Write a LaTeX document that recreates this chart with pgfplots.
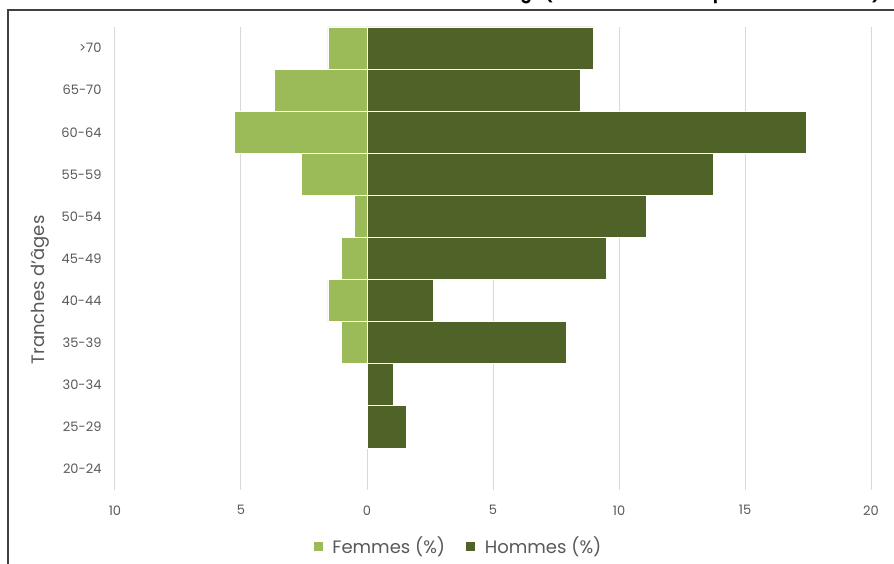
\documentclass[border=0pt]{standalone}
\usepackage{fontspec}
\setmainfont{Poppins}
\usepackage{pgfplots}
\pgfplotsset{compat=1.18}
\definecolor{femmes}{HTML}{9BBB59}
\definecolor{hommes}{HTML}{4F6228}
\definecolor{grille}{HTML}{D9D9D9}
\definecolor{texte}{HTML}{595959}
\definecolor{cadre}{HTML}{404040}
\begin{document}
\begin{tikzpicture}
\useasboundingbox (-115pt,-74pt) rectangle (779pt,490pt);
\begin{axis}[
  scale only axis, width=756pt, height=463pt,
  xmin=-10, xmax=20, ymin=-0.5, ymax=10.5,
  xtick={-10,-5,...,20},
  xticklabel={\pgfmathparse{abs(\tick)}\pgfmathprintnumber[assume math mode=true]{\pgfmathresult}},
  ytick={0,...,10},
  yticklabels={20-24,25-29,30-34,35-39,40-44,45-49,50-54,55-59,60-64,65-70,>70},
  major tick length=0pt,
  axis line style={draw=none},
  xmajorgrids, major grid style={grille, line width=1pt},
  tick label style={font=\fontsize{13}{15}\selectfont, text=texte},
  xticklabel style={yshift=-12pt},
  yticklabel style={xshift=-10pt},
  ylabel={Tranches d'âges},
  ylabel style={at={(axis description cs:-0.0992,0.432)}, rotate=0, anchor=center, font=\fontsize{18}{21}\selectfont, text=texte},
  legend style={draw=none, at={(axis description cs:0.4537,-0.121)}, anchor=center,
    legend columns=2, font=\fontsize{18}{21}\selectfont, text=texte,
    /tikz/every even column/.append style={column sep=18pt}},
  legend image code/.code={\fill[#1] (0pt,-5pt) rectangle (10pt,5pt); \path (17pt,0pt);},
]
\addplot[xbar, bar width=1, bar shift=0pt, fill=femmes, draw=white, line width=0.8pt] coordinates {
  (-1.02,3) (-1.55,4) (-1.02,5) (-0.49,6) (-2.6,7) (-5.25,8) (-3.66,9) (-1.55,10)};
\addlegendentry{Femmes (\%)}
\addplot[xbar, bar width=1, bar shift=0pt, fill=hommes, draw=white, line width=0.8pt] coordinates {
  (1.57,1) (1.05,2) (7.92,3) (2.63,4) (9.51,5) (11.1,6) (13.74,7) (17.45,8) (8.45,9) (8.98,10)};
\addlegendentry{Hommes (\%)}
\end{axis}
\begin{pgfinterruptboundingbox}
\draw[cadre, line width=1.5pt] (-107pt,-90pt) -- (-107pt,480pt) -- (800pt,480pt);
\node[anchor=base east, font=\bfseries\fontsize{16}{19}\selectfont, text=black, inner sep=0pt]
  at (765pt,490pt) {Structure des effectifs selon le sexe et l'âge (en \% de l'effectif de planteurs de cacao)};
\end{pgfinterruptboundingbox}
\end{tikzpicture}
\end{document}
